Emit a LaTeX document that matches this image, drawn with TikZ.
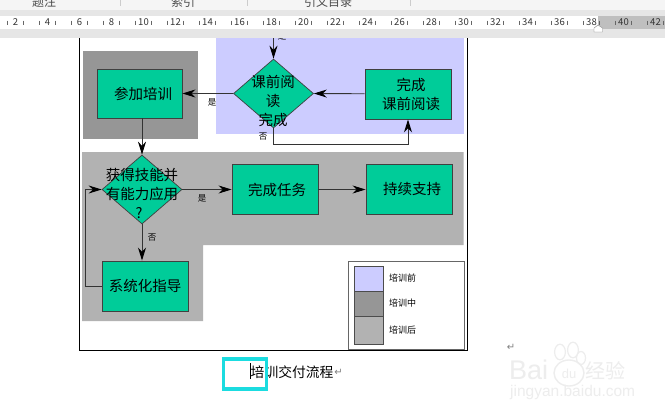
\documentclass[tikz,border=0pt]{standalone}
\usepackage{fontspec}
\setmainfont{Noto Sans CJK SC}
\newfontfamily\symfont{DejaVu Sans}
\newfontfamily\markfont{Liberation Sans}
\usetikzlibrary{arrows.meta,shapes.geometric}
\definecolor{stepgreen}{HTML}{00CC99}
\definecolor{preblue}{HTML}{CCCCFF}
\definecolor{midgray}{HTML}{969696}
\definecolor{postgray}{HTML}{B2B2B2}
\definecolor{bandgray}{HTML}{E6E6E6}
\definecolor{ribbongray}{HTML}{F5F5F5}
\definecolor{cursorcyan}{HTML}{1BDCE0}
\definecolor{markgray}{HTML}{EDEDED}
\tikzset{
  stepbox/.style={draw=black!75,line width=.9pt,fill=stepgreen,minimum width=86,minimum height=50,inner sep=0,font=\fontsize{14.5}{19}\selectfont,align=center},
  stepdiamond/.style={draw=black!75,line width=.7pt,fill=stepgreen,diamond,inner sep=0,minimum width=80,minimum height=69},
  steptext/.style={inner sep=0,font=\fontsize{14.5}{19}\selectfont,align=center},
  flow/.style={line width=.9pt,black!80,-{Stealth[length=13,width=8,black]}},
  tag/.style={inner sep=0,font=\fontsize{8.5}{9}\selectfont},
  legendtag/.style={inner sep=0,anchor=west,font=\fontsize{9}{9}\selectfont},
  swatch/.style={draw=black!70,line width=.9pt,minimum width=29,inner sep=0,anchor=north west},
  ruler/.style={inner sep=0,font=\fontsize{9.5}{10}\selectfont,black!80},
  tab/.style={inner sep=0,font=\fontsize{12}{12}\selectfont,black!70},
  retmark/.style={inner sep=0,black!50,font=\symfont\fontsize{10}{10}\selectfont},
  wmark/.style={inner sep=0,markgray,font=\markfont\fontsize{#1}{#1}\selectfont},
}
\begin{document}
\begin{tikzpicture}[x=1pt,y=-1pt]
    \useasboundingbox (0,0) rectangle (665,415);
    \fill[white] (0,0) rectangle (665,415);

    % page
    \draw[line width=.9pt] (79,30) -- (79,350) -- (467.5,350) -- (467.5,30);

    % phases
    \fill[preblue] (216,30) rectangle (463.5,134);
    \fill[midgray] (83,51) rectangle (198,139);
    \fill[postgray] (82,152) -- (463.5,152) -- (463.5,245) -- (203,245) -- (203,321) -- (82,321) -- cycle;

    % steps
    \node[stepbox,minimum width=85,minimum height=49] (train) at (139.5,93.5) {\hspace*{7pt}参加培训};
    \node[stepdiamond] (read) at (273.5,93.5) {};
    \node[steptext] (readtext) at (273,101) {课前阅\\读\\完成};
    \node[stepbox] (prep) at (408,94) {};
    \node[steptext] (preptext) at (411,94.5) {完成\\课前阅读};
    \node[stepdiamond] (apply) at (142,189.5) {};
    \node[steptext] (applytext) at (142,193) {获得技能并\\有能力应用\\?\hspace*{6pt}};
    \node[stepbox] (task) at (275,189.5) {\hspace*{4pt}完成任务};
    \node[stepbox] (support) at (409,189.5) {\hspace*{6pt}持续支持};
    \node[stepbox] (coach) at (145,286) {系统化指导};

    \coordinate (entry) at (273.5,30);
    \coordinate (backtop) at (85,189.5);
    \coordinate (backlow) at (85,286);
    \coordinate (loopa) at (273.5,144);
    \coordinate (loopb) at (408,144);

    \draw[flow] (entry) -- (read.north);
    \draw[flow] (prep) -- (read.east);
    \draw[flow] (read.west) -- (train.east);
    \draw[flow] (read.south) -- (loopa) -- (loopb) -- (prep.south);
    \draw[flow] (train.south -| apply.north) -- (apply.north);
    \draw[flow] (apply.east) -- (task);
    \draw[flow] (task) -- (support);
    \draw[flow] (apply.south) -- (coach.north -| apply.south);
    \draw[flow] (coach) -- (backlow) -- (backtop) -- (apply.west);

    \node[tag] (yesa) at (282,36) {是};
    \node[tag] (yesb) at (212,102) {是};
    \node[tag] (noa) at (263,137) {否};
    \node[tag] (yesc) at (202,198) {是};
    \node[tag] (nob) at (152,238) {否};

    % legend
    \node[draw=black!60,line width=1.2pt,fill=white,minimum width=116,minimum height=88,inner sep=0,anchor=north west] (legend) at (348,261) {};
    \node[swatch,fill=preblue,minimum height=25] (swpre) at (354,266) {};
    \node[swatch,fill=midgray,minimum height=25] (swmid) at (354,291) {};
    \node[swatch,fill=postgray,minimum height=28] (swpost) at (354,316) {};
    \node[legendtag] (lbpre) at (389,278.5) {培训前};
    \node[legendtag] (lbmid) at (389,303.5) {培训中};
    \node[legendtag] (lbpost) at (389,330) {培训后};

    % caption
    \node[inner sep=0,anchor=west,font=\fontsize{13.8}{17}\selectfont] (caption) at (250.5,372) {培训交付流程};
    \node[draw=cursorcyan,line width=3.5pt,minimum width=43,minimum height=30,inner sep=0] (cursor) at (245,374) {};
    \draw[line width=.8pt] (250.5,363) -- (250.5,379);
    \node[retmark] (markb) at (338.5,372) {↵};
    \node[retmark] (marka) at (511,347.5) {↵};

    % watermark
    \node[wmark=27,anchor=west] (wbai) at (509,370) {Bai};
    \draw[markgray,line width=1.4pt] (569,373) ellipse (15 and 13);
    \foreach \x/\y/\r in {560/352/6,573/350/6,581/358/5}
        \draw[markgray,line width=1.2pt] (\x,\y) ellipse (\r*0.9 and \r*1.3);
    \node[wmark=13] (wdu) at (569,374) {du};
    \node[inner sep=0,markgray,font=\fontsize{20}{20}\selectfont,anchor=west] (wjy) at (585,371) {经验};
    \node[wmark=15.5,anchor=west] (wsite) at (510,392) {jingyan.baidu.com};

    % toolbar
    \fill[bandgray] (0,0) rectangle (665,38);
    \fill[ribbongray] (0,0) rectangle (665,9.5);
    \fill[white] (0,16) rectangle (598,28.5);
    \fill[black!25] (598,16) rectangle (665,28.5);
    \foreach \x in {120,247,410}
        \draw[black!20] (\x,0) -- (\x,6);
    \node[tab] (tabnote) at (44,1.5) {题注};
    \node[tab] (tabindex) at (183,1.5) {索引};
    \node[tab] (tabcite) at (328,1.5) {引文目录};
    \foreach \n in {2,4,...,42}
        \node[ruler] (n\n) at ({15.5+16*(\n-2)},22.5) {\n};
    \foreach \t in {0,...,41}
        \draw[black!60,line width=.5pt] ({7.4+16*\t},20.5) -- ({7.4+16*\t},24.5);
    \draw[black!50,fill=white] (594,32) -- (594,28) -- (598,25) -- (602.5,28) -- (602.5,32) -- cycle;
\end{tikzpicture}
\end{document}
